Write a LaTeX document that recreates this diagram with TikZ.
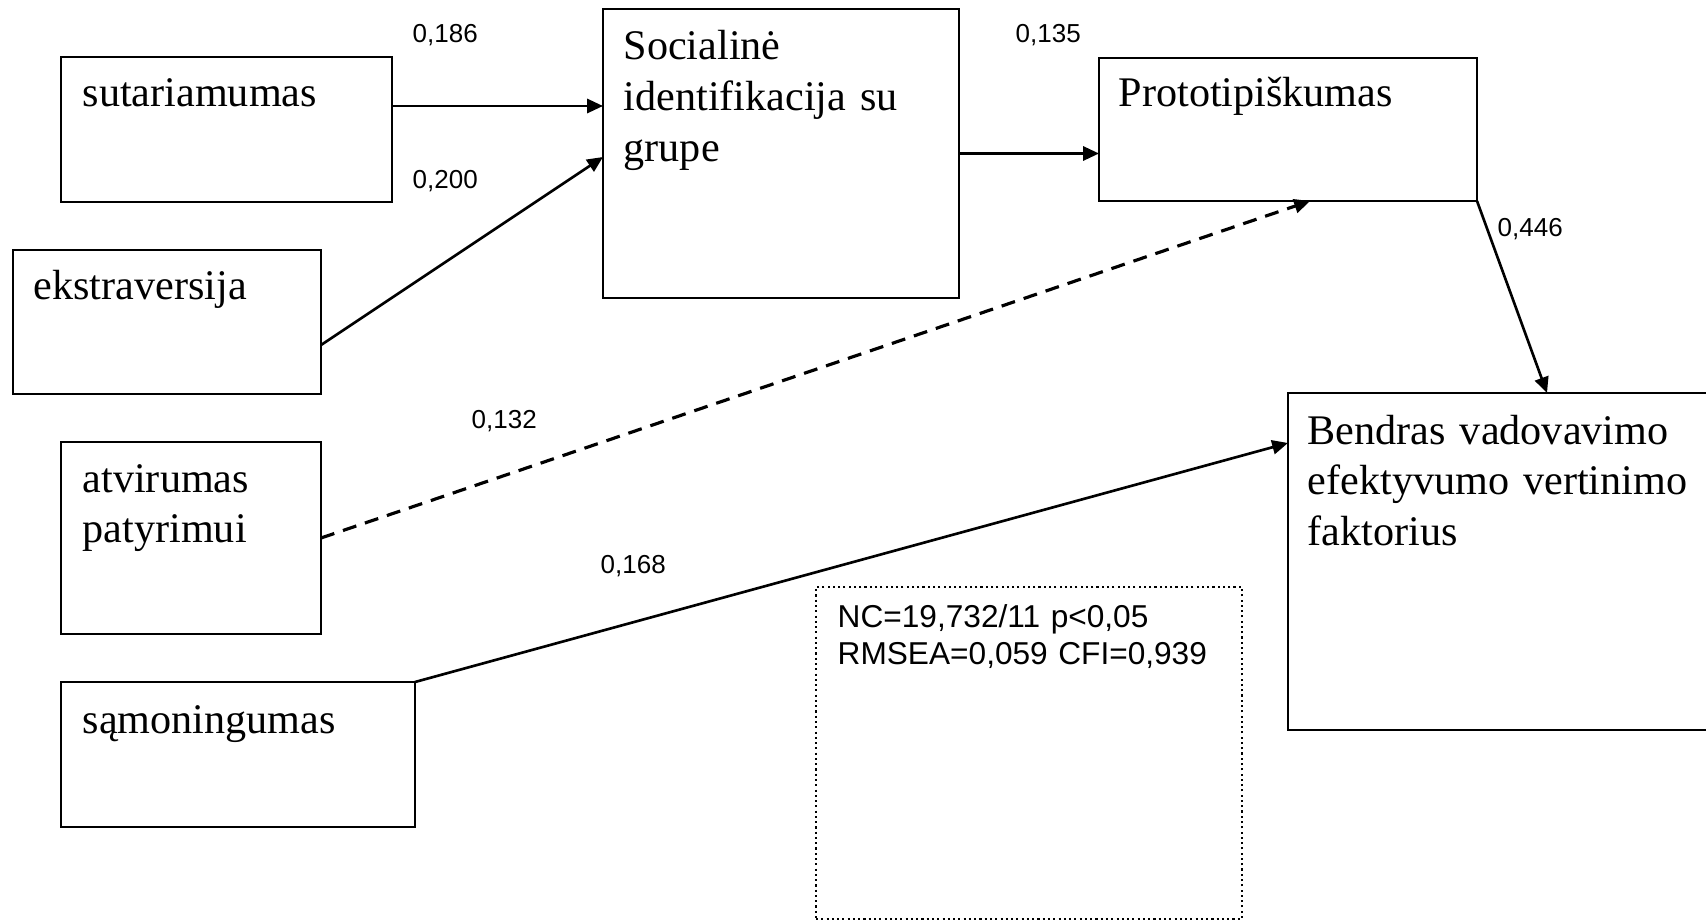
\documentclass[tikz,border=0pt]{standalone}
\usepackage{fontspec}
\setmainfont{Liberation Serif}
\newfontfamily\numfont{Liberation Sans}
\usetikzlibrary{arrows.meta}
\begin{document}
\begin{tikzpicture}[
    factor/.style={draw,black,line width=0.7pt,anchor=north west,inner sep=0pt,outer sep=0pt},
    boxtext/.style={anchor=base west,inner sep=0pt,text width=5cm,align=left,
        font=\fontsize{12}{14.5}\selectfont},
    coef/.style={anchor=base west,inner sep=0pt,font=\numfont\fontsize{7.4}{8}\selectfont},
    path/.style={line width=0.75pt,-{Triangle[length=4.5pt,width=4pt]}}
    ]
            \useasboundingbox (0,0) rectangle (17.06,-9.21);
            % Boxes
            \node[factor,minimum width=3.31cm,minimum height=1.45cm] (sut) at (0.61,-0.57) {};
            \node[factor,minimum width=3.08cm,minimum height=1.44cm] (eks) at (0.13,-2.50) {};
            \node[factor,minimum width=2.60cm,minimum height=1.92cm] (atv) at (0.61,-4.42) {};
            \node[factor,minimum width=3.54cm,minimum height=1.45cm] (sam) at (0.61,-6.82) {};
            \node[factor,minimum width=3.56cm,minimum height=2.89cm] (soc) at (6.03,-0.09) {};
            \node[factor,minimum width=3.78cm,minimum height=1.43cm] (proto) at (10.99,-0.58) {};
            \node[factor,minimum width=4.40cm,minimum height=3.37cm] (bend) at (12.88,-3.93) {};
            \node[factor,line width=0.6pt,dash pattern=on 0.6pt off 0.9pt,
                minimum width=4.26cm,minimum height=3.32cm] (fitbox) at (8.16,-5.87) {};
            % Box texts
            \node[boxtext] (sut-t) at (0.82,-1.07) {sutariamumas};
            \node[boxtext] (eks-t) at (0.33,-3.00) {ekstraversija};
            \node[boxtext] (atv-t) at (0.82,-4.92) {atvirumas\\patyrimui};
            \node[boxtext] (sam-t) at (0.82,-7.33) {sąmoningumas};
            \node[boxtext] (soc-t) at (6.23,-0.60) {Socialinė\\identifikacija su\\grupe};
            \node[boxtext] (proto-t) at (11.18,-1.07) {Prototipiškumas};
            \node[boxtext] (bend-t) at (13.07,-4.44) {Bendras vadovavimo\\efektyvumo vertinimo\\faktorius};
            \node[boxtext,font=\numfont\fontsize{9}{10.8}\selectfont] (fit-t) at (8.37,-6.27)
                {NC=19,732/11 p<0,05\\RMSEA=0,059 CFI=0,939};
            % Paths
            \draw[path] ([yshift=2.35mm]sut.east) -- ([yshift=2.35mm]sut.east -| soc.west);
            \draw[path] ([yshift=-2.3mm]eks.east) -- ([yshift=-0.35mm]soc.west);
            \draw[path,line width=0.9pt,dash pattern=on 4pt off 2.6pt] (atv.east) -- ([xshift=2.2mm]proto.south);
            \draw[path] (sam.north east) -- ([yshift=-5mm]bend.north west);
            \draw[path] (soc.east) -- (soc.east -| proto.west);
            \draw[path] (proto.south east) -- ([xshift=25.9mm]bend.north west);
            % Coefficients
            \node[coef] (c-sut) at (4.12,-0.43) {0,186};
            \node[coef] (c-eks) at (4.12,-1.89) {0,200};
            \node[coef] (c-soc) at (10.15,-0.43) {0,135};
            \node[coef] (c-proto) at (14.97,-2.37) {0,446};
            \node[coef] (c-atv) at (4.71,-4.28) {0,132};
            \node[coef] (c-sam) at (6.00,-5.73) {0,168};
           \end{tikzpicture}
\end{document}
